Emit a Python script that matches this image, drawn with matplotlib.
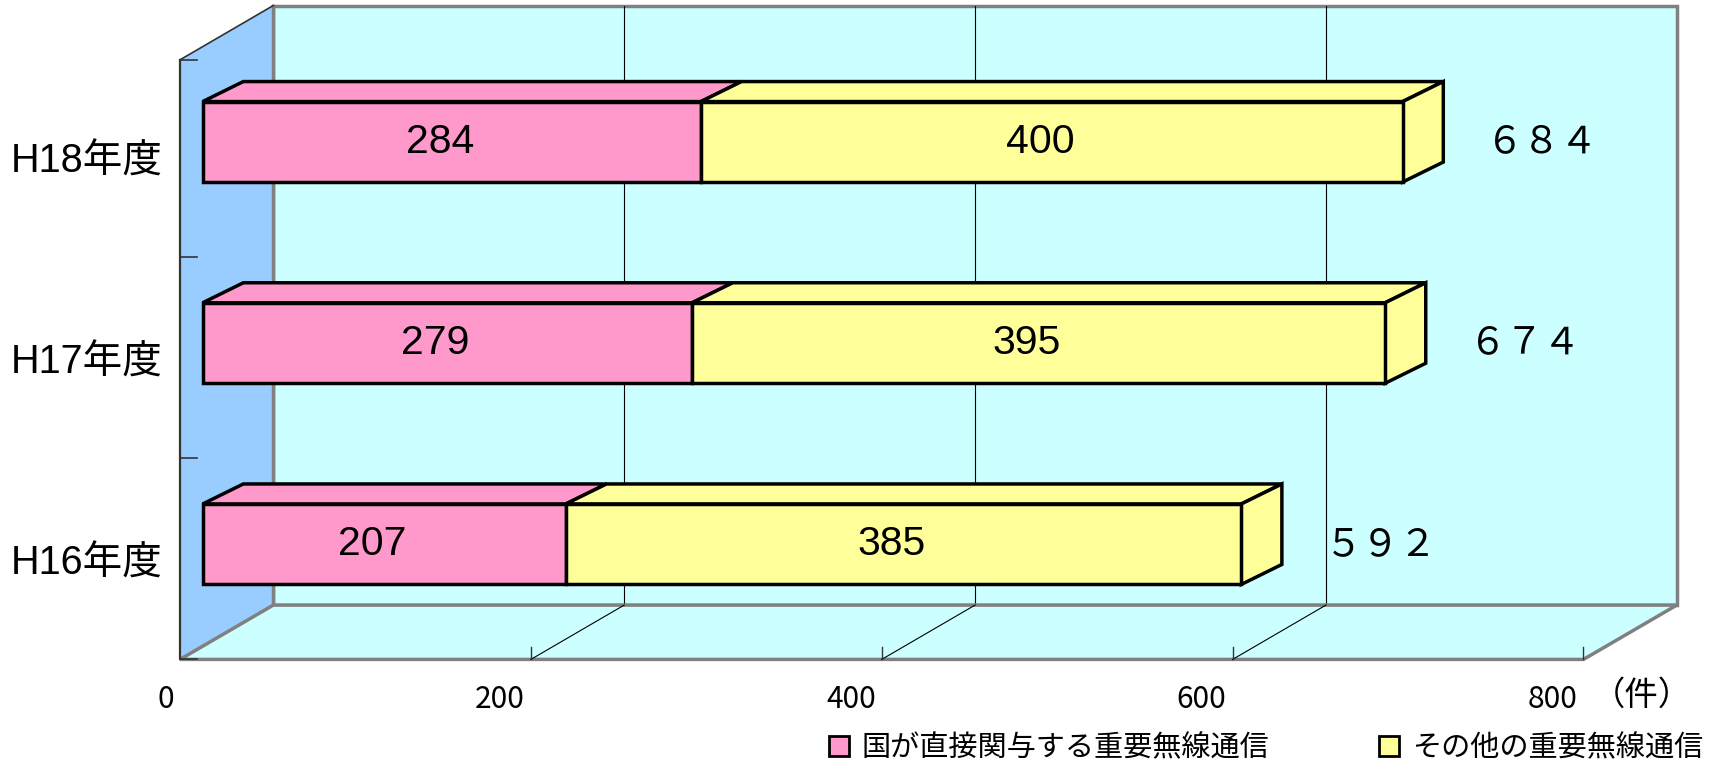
import matplotlib
matplotlib.use('Agg')
import matplotlib.pyplot as plt
from matplotlib.patches import Polygon, Rectangle, Patch

# ---- data ----
categories = ['H16年度', 'H17年度', 'H18年度']
direct = [207, 279, 284]          # 国が直接関与する重要無線通信
other = [385, 395, 400]           # その他の重要無線通信
series_names = ['国が直接関与する重要無線通信', 'その他の重要無線通信']
series_colors = ['#FF99CC', '#FFFF99']
xticks = [0, 200, 400, 600, 800]
unit_label = '（件）'

plt.rcParams['font.family'] = ['Noto Sans CJK JP', 'DejaVu Sans']
LAT = ['Liberation Sans', 'Noto Sans CJK JP', 'DejaVu Sans']

W, H = 1715, 760
fig = plt.figure(figsize=(W / 100, H / 100), dpi=100)

# front plane geometry (pixels)
x0_px, x800_px = 180.0, 1583.5
ybot_px, band_px = 659.4, 201.2
ymin, ymax = -0.5, 2.48
ax = fig.add_axes([x0_px / W, (H - ybot_px) / H, (x800_px - x0_px) / W,
                   (ymax - ymin) * band_px / H])
ax.set_xlim(0, 800)
ax.set_ylim(ymin, ymax)
ax.axis('off')

sx = (x800_px - x0_px) / 800.0   # px per unit
sy = band_px                      # px per category unit
# depth of the box (data units)
Dx, Dy = 93.3 / sx, 54.3 / sy
# bar front-face offset and bar depth
bx, by = 22.7 / sx, 14.6 / sy
cx, cy = 40.6 / sx, 20.0 / sy
bar_h = 0.4

GRAY = '#808080'
DARK = '#333333'
kw = dict(transform=ax.transData, clip_on=False)

# back wall
ax.add_patch(Rectangle((Dx, ymin + Dy), 800, ymax - ymin, facecolor='#CCFFFF',
                       edgecolor=GRAY, lw=2.5, zorder=1, **kw))
# left wall
ax.add_patch(Polygon([(0, ymin), (0, ymax), (Dx, ymax + Dy), (Dx, ymin + Dy)],
                     closed=True, facecolor='#99CCFF', edgecolor='none', zorder=1.5, **kw))
ax.plot([Dx, Dx], [ymin + Dy, ymax + Dy], color=GRAY, lw=2.5, zorder=1.6, **kw)
ax.plot([0, 0], [ymin, ymax], color=DARK, lw=1.6, zorder=2.5, **kw)
ax.plot([0, Dx], [ymax, ymax + Dy], color=DARK, lw=1.2, zorder=2.5, **kw)
# floor
ax.add_patch(Polygon([(0, ymin), (800, ymin), (800 + Dx, ymin + Dy), (Dx, ymin + Dy)],
                     closed=True, facecolor='#CCFFFF', edgecolor=GRAY, lw=2.5,
                     zorder=2, **kw))
# grid lines on back wall and floor diagonals
for t in xticks[1:-1]:
    ax.plot([t + Dx, t + Dx], [ymin + Dy, ymax + Dy], color='black', lw=0.8, zorder=1.2, **kw)
for t in xticks[1:-1]:
    ax.plot([t, t + Dx], [ymin, ymin + Dy], color='black', lw=0.8, zorder=2.2, **kw)
# front axis ticks (pointing up)
tick_len = 12 / sy
for t in xticks[1:]:
    ax.plot([t, t], [ymin, ymin + tick_len], color=DARK, lw=1.0, zorder=2.3, **kw)
# category ticks on left wall
tick_w = 17 / sx
for yv in [ymin, 0.5, 1.5, ymax]:
    ax.plot([0, tick_w], [yv, yv], color=DARK, lw=1.2, zorder=2.5, **kw)

# ---- bars ----
for i, cat in enumerate(categories):
    segs = [(0, direct[i], series_colors[0]),
            (direct[i], direct[i] + other[i], series_colors[1])]
    y0 = i - bar_h / 2 + by
    y1 = i + bar_h / 2 + by
    for k, (s, e, col) in enumerate(segs):
        ax.add_patch(Polygon([(s + bx, y1), (e + bx, y1), (e + bx + cx, y1 + cy),
                              (s + bx + cx, y1 + cy)], closed=True, facecolor=col,
                             edgecolor='black', lw=2.5, joinstyle='miter', zorder=5, **kw))
        ax.add_patch(Rectangle((s + bx, y0), e - s, bar_h, facecolor=col,
                               edgecolor='black', lw=2.5, joinstyle='miter', zorder=6, **kw))
        val = e - s
        ax.text((s + e) / 2 + bx - 12 / sx, i + by, str(val), ha='center', va='center',
                fontsize=29.5, family=LAT, color='black', zorder=8, **kw)
    e = segs[-1][1]
    ax.add_patch(Polygon([(e + bx, y0), (e + bx, y1), (e + bx + cx, y1 + cy),
                          (e + bx + cx, y0 + cy)], closed=True, facecolor=series_colors[1],
                         edgecolor='black', lw=2.5, joinstyle='miter', zorder=5, **kw))
    total = direct[i] + other[i]
    fw = str(total).translate(str.maketrans('0123456789', '０１２３４５６７８９'))
    ax.text(total + bx + 140 / sx, i + by, fw, ha='center', va='center',
            fontsize=27, color='black', zorder=8, **kw)
    # category label
    ax.text(-17 / sx, i - 5 / sy, cat, ha='right', va='center', fontsize=28.5,
            family=LAT, color='black', **kw)

# x tick labels
for t in xticks:
    ax.text(t - 6 / sx, ymin - 40 / sy, str(t), ha='right', va='center',
            fontsize=21.5, color='black', **kw)
ax.text(800 + 58 / sx, ymin - 36 / sy, unit_label, ha='center', va='center',
        fontsize=24, color='black', **kw)

# legend
handles = [Patch(facecolor=c, edgecolor='black', lw=2) for c in series_colors]
fig.legend(handles, series_names, loc='center left',
           bbox_to_anchor=(829 / W, 1 - 748 / H), ncol=2, frameon=False,
           fontsize=21, handlelength=0.68, handleheight=0.68, handletextpad=0.45,
           columnspacing=3.75, borderpad=0, borderaxespad=0)

fig.savefig('out.png', dpi=100, facecolor='white')
